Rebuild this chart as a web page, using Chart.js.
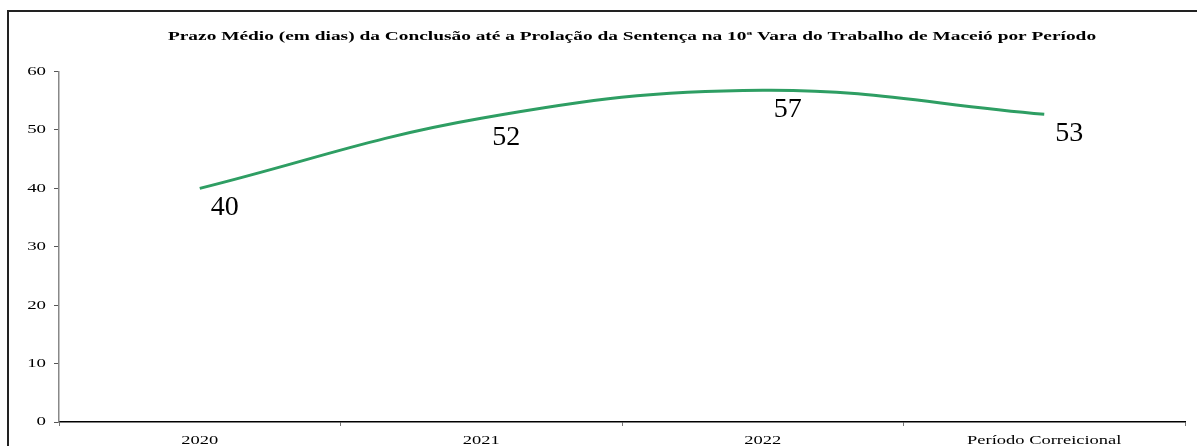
<!DOCTYPE html>
<html>
<head>
<meta charset="utf-8">
<script src="https://cdn.jsdelivr.net/npm/chart.js@4/dist/chart.umd.min.js"></script>
<style>
  body { margin: 0; background: #fff; }
  #wrap { position: absolute; left: 0; top: 0; width: 1197px; height: 446px; }
  #frame { position: absolute; left: 7px; top: 10px; width: 1200px; height: 460px; border: 2px solid #222; box-sizing: border-box; pointer-events: none; }
</style>
</head>
<body>
<div id="wrap"><canvas id="mainChart"></canvas></div>
<div id="frame"></div>
<script>
// dados do gráfico
const periodos = ['2020', '2021', '2022', 'Período Correicional'];
const prazoMedio = [40, 52, 56.8, 52.7];
const rotulos = ['40', '52', '57', '53'];
const yTicks = [0, 10, 20, 30, 40, 50, 60];
const titulo = 'Prazo Médio (em dias) da Conclusão até a Prolação da Sentença na 10ª Vara do Trabalho de Maceió por Período';

const serif = '"Liberation Serif", "Times New Roman", serif';

// texto esticado na horizontal, como no original
function stretchText(ctx, text, x, y, sx, align) {
    ctx.save();
    ctx.translate(x, y);
    ctx.scale(sx, 1);
    ctx.textAlign = align;
    ctx.fillText(text, 0, 0);
    ctx.restore();
}

// desenha título e rótulos dos eixos (as posições vêm das escalas)
const stretchedLabels = {
    id: 'stretchedLabels',
    afterDraw(chart) {
        const ctx = chart.ctx;
        const xs = chart.scales.x;
        const ys = chart.scales.y;
        ctx.save();
        ctx.fillStyle = '#000';
        ctx.textBaseline = 'middle';

        ctx.font = 'bold 13px ' + serif;
        stretchText(ctx, titulo, (chart.chartArea.left + chart.chartArea.right) / 2 + 10, 37, 1.49, 'center');

        ctx.font = '13px ' + serif;
        xs.ticks.forEach((t, i) => {
            stretchText(ctx, periodos[i], xs.getPixelForTick(i), xs.top + 19, 1.42, 'center');
        });
        ys.ticks.forEach((t) => {
            stretchText(ctx, String(t.value), ys.right - 13, ys.getPixelForValue(t.value), 1.45, 'right');
        });
        ctx.restore();
    }
};

// valores abaixo de cada ponto
const valueLabels = {
    id: 'valueLabels',
    afterDatasetsDraw(chart) {
        const ctx = chart.ctx;
        const meta = chart.getDatasetMeta(0);
        ctx.save();
        ctx.font = '28px ' + serif;
        ctx.fillStyle = '#000';
        ctx.textAlign = 'center';
        ctx.textBaseline = 'middle';
        meta.data.forEach((pt, i) => {
            ctx.fillText(rotulos[i], pt.x + 25, pt.y + 19);
        });
        ctx.restore();
    }
};

function createChart() {
    const ctx = document.getElementById('mainChart');
    new Chart(ctx, {
        type: 'line',
        data: {
            labels: periodos,
            datasets: [{
                data: prazoMedio,
                borderColor: 'rgb(46, 158, 99)',
                borderWidth: 3,
                tension: 0.4,
                pointRadius: 0,
                fill: false
            }]
        },
        options: {
            responsive: true,
            maintainAspectRatio: false,
            animation: false,
            layout: { padding: { top: 31, left: 7, right: 12, bottom: 0 } },
            plugins: {
                legend: { display: false },
                tooltip: { enabled: false },
                title: {
                    display: true,
                    text: titulo,
                    color: 'rgba(0,0,0,0)',
                    font: { family: serif, size: 13, weight: 'bold' },
                    padding: { top: 0, bottom: 25 }
                }
            },
            scales: {
                x: {
                    offset: true,
                    afterFit: (scale) => { scale.height = 24; },
                    border: { display: true, color: '#000', width: 1.5 },
                    grid: {
                        display: true,
                        offset: true,
                        drawOnChartArea: false,
                        drawTicks: true,
                        tickLength: 4,
                        color: '#777'
                    },
                    ticks: {
                        color: 'rgba(0,0,0,0)',
                        font: { family: serif, size: 13 },
                        padding: 2,
                        maxRotation: 0,
                        autoSkip: false
                    }
                },
                y: {
                    min: 0,
                    max: 60,
                    afterBuildTicks: (scale) => {
                        scale.ticks = yTicks.map(v => ({ value: v }));
                    },
                    afterFit: (scale) => { scale.width = 52; },
                    border: { display: true, color: '#888', width: 1.5 },
                    grid: {
                        display: true,
                        drawOnChartArea: false,
                        drawTicks: true,
                        tickLength: 5,
                        color: '#555'
                    },
                    ticks: {
                        color: 'rgba(0,0,0,0)',
                        font: { family: serif, size: 13 },
                        padding: 6
                    }
                }
            }
        },
        plugins: [valueLabels, stretchedLabels]
    });
}

createChart();
</script>
</body>
</html>
